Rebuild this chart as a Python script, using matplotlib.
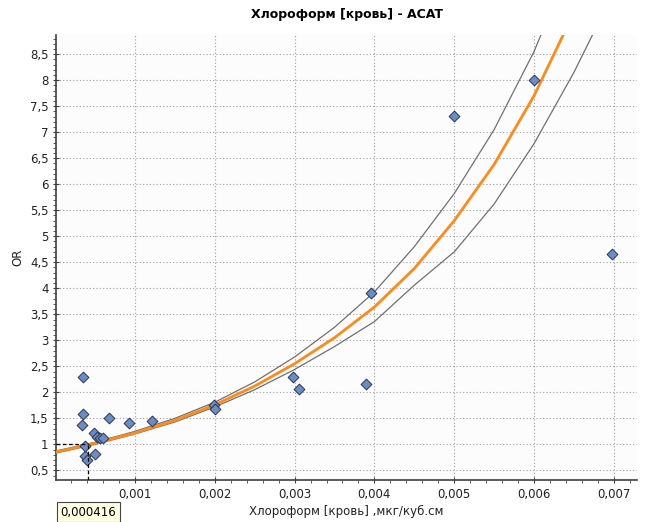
import numpy as np
import matplotlib
matplotlib.use("Agg")
import matplotlib.pyplot as plt
from matplotlib.ticker import MultipleLocator, FuncFormatter

# measured points (chloroform in blood vs OR)
pts_x = [0.000345, 0.000345, 0.000330, 0.000680, 0.000920, 0.00121, 0.000490,
         0.000520, 0.000560, 0.000605, 0.000500, 0.000375, 0.000395, 0.000370,
         0.00199, 0.00200, 0.00298, 0.00305, 0.00396, 0.00390, 0.00500, 0.00600, 0.00698]
pts_y = [2.29, 1.59, 1.37, 1.50, 1.41, 1.44, 1.21,
         1.15, 1.13, 1.13, 0.82, 0.77, 0.69, 0.96,
         1.75, 1.67, 2.29, 2.06, 3.90, 2.16, 7.31, 8.00, 4.66]

# fitted curve and confidence band
curve_x = [0.0, 0.0005, 0.001, 0.0015, 0.002, 0.0025, 0.003, 0.0035,
           0.004, 0.0045, 0.005, 0.0055, 0.006, 0.0065, 0.007]
fit_y = [0.85, 1.02, 1.22, 1.46, 1.76, 2.12, 2.55, 3.05,
         3.64, 4.38, 5.30, 6.38, 7.70, 9.30, 11.0]
upper_y = [0.87, 1.04, 1.25, 1.50, 1.81, 2.20, 2.68, 3.25,
           3.93, 4.80, 5.82, 7.05, 8.55, 10.4, 12.5]
lower_y = [0.83, 1.00, 1.20, 1.43, 1.72, 2.05, 2.44, 2.88,
           3.36, 4.06, 4.70, 5.62, 6.78, 8.15, 9.70]

or_one_x = 0.000416

fig = plt.figure(figsize=(6.46, 5.22), dpi=100)
fig.patch.set_facecolor("white")
ax = fig.add_axes([0.087, 0.080, 0.899, 0.853])
ax.set_facecolor("#fcfcfc")

ax.plot(curve_x, upper_y, color="#707070", lw=0.9, zorder=3)
ax.plot(curve_x, lower_y, color="#707070", lw=0.9, zorder=3)
ax.plot(curve_x, fit_y, color="#ff8a1c", lw=2.0, zorder=4)

ax.scatter(pts_x, pts_y, marker="D", s=30, facecolor="#6b8cc4",
           edgecolor="#2b3550", linewidths=0.7, zorder=5)

ax.set_xlim(0.0000125, 0.00729)
ax.set_ylim(0.31, 8.87)

# dashed marker for OR = 1
ax.plot([0.0000125, or_one_x], [1, 1], color="black", lw=0.9, ls=(0, (3, 2)), zorder=6)
ax.plot([or_one_x, or_one_x], [0.31, 1], color="black", lw=0.9, ls=(0, (3, 2)), zorder=6)
ax.annotate("0,000416", xy=(or_one_x, 0.31), xycoords="data",
            xytext=(0, -23), textcoords="offset points", ha="center", va="center",
            fontsize=8.5, annotation_clip=False,
            bbox=dict(boxstyle="square,pad=0.3", facecolor="#ffffe1", edgecolor="#444444", lw=0.8))

ax.xaxis.set_major_locator(MultipleLocator(0.001))
ax.xaxis.set_minor_locator(MultipleLocator(0.0002))
ax.yaxis.set_major_locator(MultipleLocator(0.5))
ax.yaxis.set_minor_locator(MultipleLocator(0.1))
ax.xaxis.set_major_formatter(FuncFormatter(lambda v, p: f"{v:.3f}".replace(".", ",")))
ax.yaxis.set_major_formatter(FuncFormatter(lambda v, p: f"{v:g}".replace(".", ",")))

ax.grid(True, which="major", color="#a0a0a0", ls=(0, (1, 2)), lw=0.8)
for s in ["top", "right"]:
    ax.spines[s].set_visible(False)
for s in ["left", "bottom"]:
    ax.spines[s].set_color("#404040")
    ax.spines[s].set_linewidth(1.2)
ax.tick_params(which="major", length=4, direction="inout", color="#404040", labelsize=8.5, labelcolor="#222222")
ax.tick_params(which="minor", length=2, direction="out", color="#404040")

ax.set_title("Хлороформ [кровь] - ACAT", fontsize=9, fontweight="bold", pad=12)
ax.set_xlabel("Хлороформ [кровь] ,мкг/куб.см", fontsize=8.5, labelpad=3, color="#222222")
ax.set_ylabel("OR", fontsize=8.5, labelpad=4, color="#222222")

fig.savefig("out.png", dpi=100)
